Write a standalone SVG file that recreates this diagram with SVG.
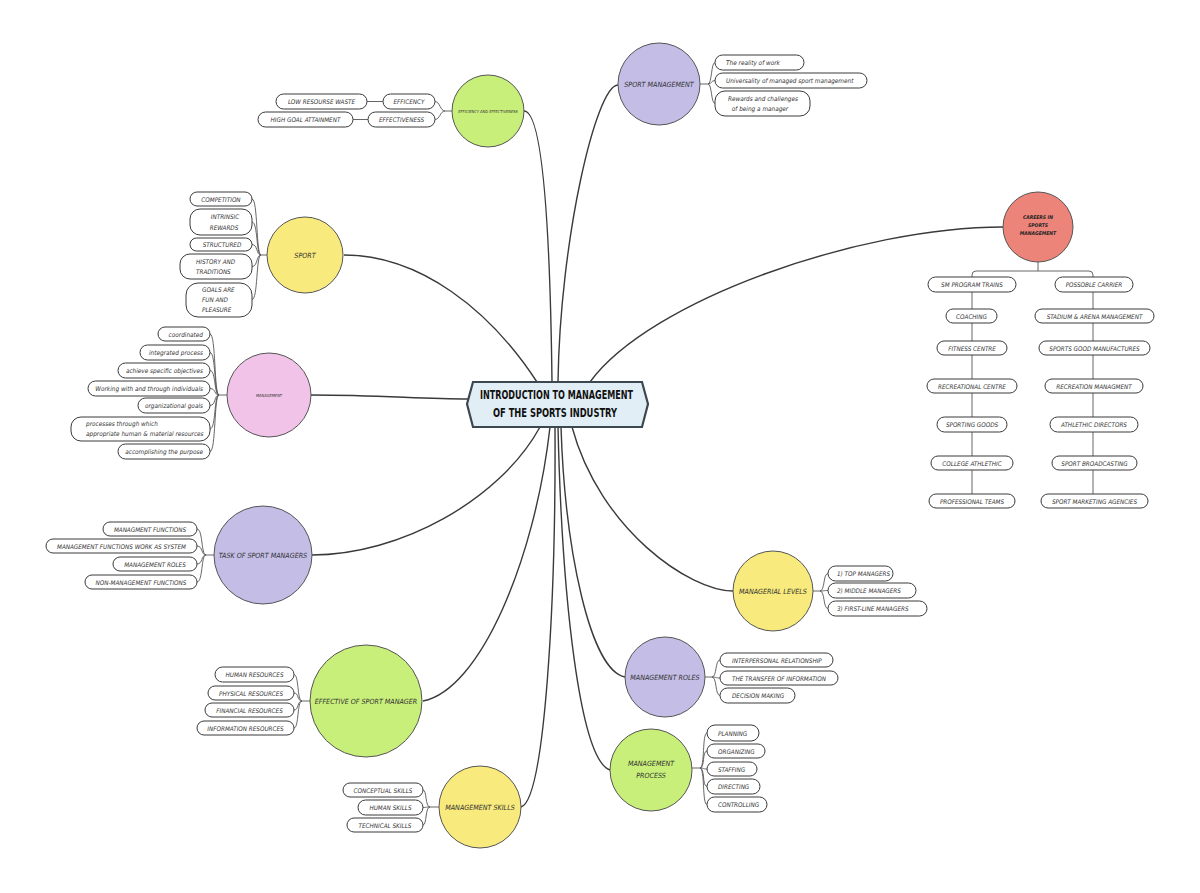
<svg xmlns="http://www.w3.org/2000/svg" width="1200" height="893" viewBox="0 0 1200 893">
<style>
.bg{fill:#ffffff}
.main{fill:none;stroke:#3a3a3a;stroke-width:1.4}
.br{fill:none;stroke:#555;stroke-width:0.9}
.pill{fill:#ffffff;stroke:#3a3a3a;stroke-width:1}
.circ{stroke:#555;stroke-width:1}
.g{fill:#c9ef7b}.p{fill:#c4bde6}.y{fill:#f8ea7c}.k{fill:#f1c3e8}.s{fill:#ec847a}
text{font-family:"Liberation Sans Narrow","DejaVu Sans Condensed","Liberation Sans",sans-serif;fill:#333;font-style:italic}
.pt{font-size:6.3px;text-anchor:middle}
.ptl{font-size:6.3px}
.pl{font-size:6.4px}
.ct{font-size:7.1px;text-anchor:middle}
.tiny{font-size:4px;text-anchor:middle}
.cr{font-size:5px;font-weight:bold;text-anchor:middle;fill:#222}
.title{font-family:"Liberation Sans Narrow","DejaVu Sans Condensed","Liberation Sans",sans-serif;font-size:12px;font-weight:bold;font-style:normal;fill:#111}
</style>
<rect class="bg" width="1200" height="893"/>

<g id="connectors">
<path class="main" d="M344 255 C420 255 490 310 537 382"/>
<path class="main" d="M524 111 C542 111 550 220 552 382"/>
<path class="main" d="M618 85 C596 85 560 240 558 382"/>
<path class="main" d="M590 382 C650 300 860 227 1003 227"/>
<path class="main" d="M311 395 C380 395 420 399 468 399"/>
<path class="main" d="M312 555 C400 555 500 500 540 427"/>
<path class="main" d="M423 701 C480 690 535 560 550 427"/>
<path class="main" d="M521 807 C545 800 556 600 555 427"/>
<path class="main" d="M610 770 C580 760 562 600 558 427"/>
<path class="main" d="M625 677 C590 670 565 550 561 427"/>
<path class="main" d="M733 591 C690 591 600 530 572 427"/>

<path class="br" d="M453 111 H445 M445 111 C440 111 440 101.5 435 101.5 M445 111 C440 111 440 119.5 435 119.5 M367 101.5 H383 M353 119.5 H368"/>
<path class="br" d="M700 84 H708 M708 84 C712 84 711 62.5 715 62.5 M708 84 C712 84 711 80.5 715 80.5 M708 84 C712 84 711 103.5 715 103.5"/>
<path class="br" d="M267 255 H261 M261 255 C256 255 258 199 252 199 M261 255 C256 255 258 222 252 222 M261 255 C256 255 258 244.5 252 244.5 M261 255 C256 255 258 266.5 252 266.5 M261 255 C256 255 258 299.5 252 299.5"/>
<path class="br" d="M227 395 H219 M219 395 C214 395 216 334 210 334 M219 395 C214 395 216 352.5 210 352.5 M219 395 C214 395 216 370.5 210 370.5 M219 395 C214 395 216 388.5 210 388.5 M219 395 C214 395 216 405.5 210 405.5 M219 395 C214 395 216 429 210 429 M219 395 C214 395 216 451.5 210 451.5"/>
<path class="br" d="M214 555 H206 M206 555 C201 555 203 529 197 529 M206 555 C201 555 203 546 197 546 M206 555 C201 555 203 564 197 564 M206 555 C201 555 203 582 197 582"/>
<path class="br" d="M311 701 H302 M302 701 C297 701 299 674.5 294 674.5 M302 701 C297 701 299 693 294 693 M302 701 C297 701 299 710 294 710 M302 701 C297 701 299 728 294 728"/>
<path class="br" d="M439 807 H430 M430 807 C425 807 427 790 423 790 M430 807 C425 807 427 807.5 423 807.5 M430 807 C425 807 427 825 423 825"/>
<path class="br" d="M813 591 H820 M820 591 C825 591 823 573.5 828 573.5 M820 591 C825 591 823 590.5 828 590.5 M820 591 C825 591 823 608.5 828 608.5"/>
<path class="br" d="M705 677 H712 M712 677 C717 677 715 660 720 660 M712 677 C717 677 715 678 720 678 M712 677 C717 677 715 695.5 720 695.5"/>
<path class="br" d="M692 768 H700 M700 768 C705 768 702 733 707 733 M700 768 C705 768 702 751 707 751 M700 768 C705 768 702 769 707 769 M700 768 C705 768 702 786.5 707 786.5 M700 768 C705 768 702 804.5 707 804.5"/>
<path class="br" d="M1038 262 V271 M972 277 V275 Q972 271 976 271 H1089 Q1093 271 1093 275 V277 M972 292 V494 M1093 292 V494"/>
</g>

<g id="center">
<polygon points="473,382 642,382 648,404 642,427 473,427 467,404" fill="#e1eef5" stroke="#3c4850" stroke-width="2.2"/>
<text class="title" x="480" y="399" textLength="153" lengthAdjust="spacingAndGlyphs">INTRODUCTION TO MANAGEMENT</text>
<text class="title" x="493" y="417" textLength="124" lengthAdjust="spacingAndGlyphs">OF THE SPORTS INDUSTRY</text>
</g>

<g id="efficiency">
<circle class="circ g" cx="488" cy="111" r="36"/>
<text class="tiny" x="488" y="112.5">EFFICIENCY AND EFFECTIVENESS</text>
<rect class="pill" x="383" y="94" width="52" height="15" rx="7.5"/><text class="pt" x="409" y="104">EFFICENCY</text>
<rect class="pill" x="276" y="94" width="91" height="15" rx="7.5"/><text class="pt" x="321.5" y="104">LOW RESOURSE WASTE</text>
<rect class="pill" x="368" y="112" width="67" height="15" rx="7.5"/><text class="pt" x="401.5" y="122">EFFECTIVENESS</text>
<rect class="pill" x="258" y="112" width="95" height="15" rx="7.5"/><text class="pt" x="305.5" y="122">HIGH GOAL ATTAINMENT</text>
</g>

<g id="sport-management">
<circle class="circ p" cx="659" cy="84" r="41"/>
<text class="ct" x="659" y="87">SPORT MANAGEMENT</text>
<rect class="pill" x="715" y="55" width="89" height="15" rx="7.5"/><text class="pl" x="726" y="65">The reality of work</text>
<rect class="pill" x="715" y="73" width="152" height="15" rx="7.5"/><text class="pl" x="726" y="83">Universality of managed sport management</text>
<rect class="pill" x="715" y="91" width="95" height="25" rx="10"/><text class="pl" x="763" y="101" text-anchor="middle">Rewards and challenges</text><text class="pl" x="760" y="110.5" text-anchor="middle">of being a manager</text>
</g>

<g id="careers">
<circle class="circ s" cx="1038" cy="227" r="35"/>
<text class="cr" x="1038" y="219">CAREERS IN</text>
<text class="cr" x="1038" y="227">SPORTS</text>
<text class="cr" x="1038" y="235">MANAGEMENT</text>
<rect class="pill" x="928" y="277" width="88" height="15" rx="7.5"/><text class="pt" x="972" y="287">SM PROGRAM TRAINS</text>
<rect class="pill" x="946" y="309" width="51" height="14" rx="7"/><text class="pt" x="971.5" y="318.5">COACHING</text>
<rect class="pill" x="937" y="341" width="70" height="14" rx="7"/><text class="pt" x="972" y="350.5">FITNESS CENTRE</text>
<rect class="pill" x="927" y="379" width="90" height="14" rx="7"/><text class="pt" x="972" y="388.5">RECREATIONAL CENTRE</text>
<rect class="pill" x="937" y="417" width="70" height="15" rx="7.5"/><text class="pt" x="972" y="427">SPORTING GOODS</text>
<rect class="pill" x="931" y="456" width="82" height="14" rx="7"/><text class="pt" x="972" y="465.5">COLLEGE ATHLETHIC</text>
<rect class="pill" x="929" y="494" width="86" height="14" rx="7"/><text class="pt" x="972" y="503.5">PROFESSIONAL TEAMS</text>
<rect class="pill" x="1055" y="277" width="78" height="15" rx="7.5"/><text class="pt" x="1094" y="287">POSSOBLE CARRIER</text>
<rect class="pill" x="1035" y="309" width="119" height="14" rx="7"/><text class="pt" x="1094.5" y="318.5">STADIUM &amp; ARENA MANAGEMENT</text>
<rect class="pill" x="1039" y="341" width="111" height="14" rx="7"/><text class="pt" x="1094.5" y="350.5">SPORTS GOOD MANUFACTURES</text>
<rect class="pill" x="1045" y="379" width="98" height="14" rx="7"/><text class="pt" x="1094" y="388.5">RECREATION MANAGMENT</text>
<rect class="pill" x="1050" y="417" width="88" height="15" rx="7.5"/><text class="pt" x="1094" y="427">ATHLETHIC DIRECTORS</text>
<rect class="pill" x="1052" y="456" width="85" height="14" rx="7"/><text class="pt" x="1094.5" y="465.5">SPORT BROADCASTING</text>
<rect class="pill" x="1041" y="494" width="107" height="14" rx="7"/><text class="pt" x="1094.5" y="503.5">SPORT MARKETING AGENCIES</text>
</g>

<g id="sport">
<circle class="circ y" cx="305" cy="255" r="38"/>
<text class="ct" x="305" y="257.5">SPORT</text>
<rect class="pill" x="190" y="192" width="62" height="14" rx="7"/><text class="pt" x="221" y="201.5">COMPETITION</text>
<rect class="pill" x="190" y="209" width="62" height="26" rx="10"/><text class="pt" x="225" y="219">INTRINSIC</text><text class="pt" x="224" y="229.5">REWARDS</text>
<rect class="pill" x="190" y="238" width="62" height="13" rx="6.5"/><text class="pt" x="222" y="247">STRUCTURED</text>
<rect class="pill" x="180" y="254" width="72" height="25" rx="10"/><text class="ptl" x="196" y="264">HISTORY AND</text><text class="ptl" x="196" y="274">TRADITIONS</text>
<rect class="pill" x="186" y="283" width="66" height="34" rx="12"/><text class="ptl" x="202" y="292">GOALS ARE</text><text class="ptl" x="202" y="302">FUN AND</text><text class="ptl" x="202" y="312">PLEASURE</text>
</g>

<g id="management">
<circle class="circ k" cx="269" cy="395" r="42"/>
<text class="tiny" x="269" y="396.5">MANAGEMENT</text>
<rect class="pill" x="158" y="327" width="52" height="14" rx="7"/><text class="pl" x="203" y="336.5" text-anchor="end">coordinated</text>
<rect class="pill" x="140" y="345" width="70" height="15" rx="7.5"/><text class="pl" x="203" y="355" text-anchor="end">integrated process</text>
<rect class="pill" x="118" y="363" width="92" height="15" rx="7.5"/><text class="pl" x="203" y="373" text-anchor="end">achieve specific objectives</text>
<rect class="pill" x="88" y="381" width="122" height="15" rx="7.5"/><text class="pl" x="203" y="391" text-anchor="end">Working with and through individuals</text>
<rect class="pill" x="138" y="398" width="72" height="15" rx="7.5"/><text class="pl" x="203" y="408" text-anchor="end">organizational goals</text>
<rect class="pill" x="71" y="417" width="139" height="24" rx="10"/><text class="pl" x="86" y="426">processes through which</text><text class="pl" x="86" y="436">appropriate human &amp; material resources</text>
<rect class="pill" x="118" y="444" width="92" height="15" rx="7.5"/><text class="pl" x="203" y="454" text-anchor="end">accomplishing the purpose</text>
</g>

<g id="task">
<circle class="circ p" cx="263" cy="555" r="49"/>
<text class="ct" x="263" y="557.5">TASK OF SPORT MANAGERS</text>
<rect class="pill" x="103" y="522" width="94" height="14" rx="7"/><text class="pt" x="150" y="531.5">MANAGMENT FUNCTIONS</text>
<rect class="pill" x="46" y="539" width="151" height="14" rx="7"/><text class="pt" x="121.5" y="548.5">MANAGEMENT FUNCTIONS WORK AS SYSTEM</text>
<rect class="pill" x="113" y="557" width="84" height="14" rx="7"/><text class="pt" x="155" y="566.5">MANAGEMENT ROLES</text>
<rect class="pill" x="85" y="575" width="112" height="14" rx="7"/><text class="pt" x="141" y="584.5">NON-MANAGEMENT FUNCTIONS</text>
</g>

<g id="effective">
<circle class="circ g" cx="366" cy="701" r="56"/>
<text class="ct" x="366" y="703.5">EFFECTIVE OF SPORT MANAGER</text>
<rect class="pill" x="215" y="667" width="79" height="15" rx="7.5"/><text class="pt" x="254.5" y="677">HUMAN RESOURCES</text>
<rect class="pill" x="208" y="686" width="86" height="14" rx="7"/><text class="pt" x="251" y="695.5">PHYSICAL RESOURCES</text>
<rect class="pill" x="205" y="703" width="89" height="14" rx="7"/><text class="pt" x="249.5" y="712.5">FINANCIAL RESOURCES</text>
<rect class="pill" x="197" y="721" width="97" height="14" rx="7"/><text class="pt" x="245.5" y="730.5">INFORMATION RESOURCES</text>
</g>

<g id="skills">
<circle class="circ y" cx="480" cy="807" r="41"/>
<text class="ct" x="480" y="809.5">MANAGEMENT SKILLS</text>
<rect class="pill" x="343" y="783" width="80" height="14" rx="7"/><text class="pt" x="383" y="792.5">CONCEPTUAL SKILLS</text>
<rect class="pill" x="358" y="800" width="65" height="15" rx="7.5"/><text class="pt" x="390.5" y="810">HUMAN SKILLS</text>
<rect class="pill" x="347" y="818" width="76" height="14" rx="7"/><text class="pt" x="385" y="827.5">TECHNICAL SKILLS</text>
</g>

<g id="managerial-levels">
<circle class="circ y" cx="773" cy="591" r="40"/>
<text class="ct" x="773" y="593.5">MANAGERIAL LEVELS</text>
<rect class="pill" x="828" y="566" width="65" height="15" rx="7.5"/><text class="ptl" x="837" y="576">1) TOP MANAGERS</text>
<rect class="pill" x="828" y="583" width="88" height="15" rx="7.5"/><text class="ptl" x="837" y="593">2) MIDDLE MANAGERS</text>
<rect class="pill" x="828" y="601" width="99" height="15" rx="7.5"/><text class="ptl" x="837" y="611">3) FIRST-LINE MANAGERS</text>
</g>

<g id="management-roles">
<circle class="circ p" cx="665" cy="677" r="40"/>
<text class="ct" x="665" y="679.5">MANAGEMENT ROLES</text>
<rect class="pill" x="720" y="653" width="113" height="14" rx="7"/><text class="ptl" x="732" y="662.5">INTERPERSONAL RELATIONSHIP</text>
<rect class="pill" x="720" y="671" width="118" height="14" rx="7"/><text class="ptl" x="732" y="680.5">THE TRANSFER OF INFORMATION</text>
<rect class="pill" x="720" y="688" width="75" height="15" rx="7.5"/><text class="ptl" x="732" y="698">DECISION MAKING</text>
</g>

<g id="management-process">
<circle class="circ g" cx="651" cy="770" r="41"/>
<text class="ct" x="651" y="765.5">MANAGEMENT</text>
<text class="ct" x="651" y="777.5">PROCESS</text>
<rect class="pill" x="707" y="725" width="52" height="16" rx="8"/><text class="ptl" x="718" y="735.5">PLANNING</text>
<rect class="pill" x="707" y="744" width="58" height="14" rx="7"/><text class="ptl" x="718" y="753.5">ORGANIZING</text>
<rect class="pill" x="707" y="762" width="50" height="14" rx="7"/><text class="ptl" x="718" y="771.5">STAFFING</text>
<rect class="pill" x="707" y="779" width="53" height="15" rx="7.5"/><text class="ptl" x="718" y="789">DIRECTING</text>
<rect class="pill" x="707" y="797" width="60" height="15" rx="7.5"/><text class="ptl" x="718" y="807">CONTROLLING</text>
</g>
</svg>
